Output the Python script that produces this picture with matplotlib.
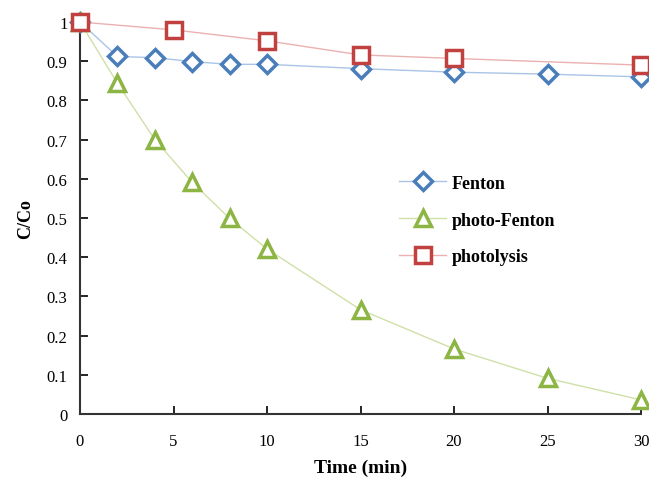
import matplotlib
matplotlib.use("Agg")
import matplotlib.pyplot as plt

time_fenton = [0, 2, 4, 6, 8, 10, 15, 20, 25, 30]
fenton = [1.0, 0.912, 0.909, 0.899, 0.892, 0.892, 0.881, 0.872, 0.867, 0.860]

time_photo_fenton = [0, 2, 4, 6, 8, 10, 15, 20, 25, 30]
photo_fenton = [1.0, 0.844, 0.700, 0.591, 0.499, 0.421, 0.266, 0.166, 0.091, 0.036]

time_photolysis = [0, 5, 10, 15, 20, 30]
photolysis = [1.0, 0.980, 0.952, 0.916, 0.907, 0.890]

x_ticks = [0, 5, 10, 15, 20, 25, 30]
y_ticks = [0, 0.1, 0.2, 0.3, 0.4, 0.5, 0.6, 0.7, 0.8, 0.9, 1.0]
y_tick_labels = ["0", "0.1", "0.2", "0.3", "0.4", "0.5", "0.6", "0.7", "0.8", "0.9", "1"]

plt.rcParams['font.family'] = ['Liberation Serif', 'DejaVu Serif']

fig = plt.figure(figsize=(6.49, 4.81), dpi=100)
ax = fig.add_axes([80/649, 66/481, 561/649, 392/481])

common = dict(markerfacecolor='white', markeredgewidth=2.5, linewidth=1.0, clip_on=False)
ax.plot(time_fenton, fenton, color='#a9c4e6', marker='D', markersize=9,
        markeredgecolor='#4a7ebb', label='Fenton', zorder=3, **common)
ax.plot(time_photo_fenton, photo_fenton, color='#cfe0a8', marker='^', markersize=11.5,
        markeredgecolor='#8db543', label='photo-Fenton', zorder=3, **common)
ax.plot(time_photolysis, photolysis, color='#eab1b0', marker='s', markersize=11.5,
        markeredgecolor='#c0413f', label='photolysis', zorder=4, **common)

ax.set_xlim(0, 30)
ax.set_ylim(0, 1)
ax.set_xticks(x_ticks)
ax.set_yticks(y_ticks)
ax.set_yticklabels(y_tick_labels)
ax.tick_params(direction='in', length=6, width=1.2, labelsize=12, colors='black')
ax.tick_params(axis='x', pad=14)
ax.tick_params(axis='y', pad=9)
for s in ['top', 'right']:
    ax.spines[s].set_visible(False)
for s in ['left', 'bottom']:
    ax.spines[s].set_linewidth(1.5)
    ax.spines[s].set_color('#333333')

ax.set_xlabel('Time (min)', fontsize=14, fontweight='bold', labelpad=7)
ax.set_ylabel('C/Co', fontsize=13, fontweight='bold', labelpad=9)

leg = ax.legend(loc='upper left', bbox_to_anchor=(0.54, 0.652), frameon=False,
                prop={'weight': 'bold', 'size': 13}, labelspacing=1.1,
                handlelength=2.6, handletextpad=0.3)

fig.savefig('out.png', dpi=100)
